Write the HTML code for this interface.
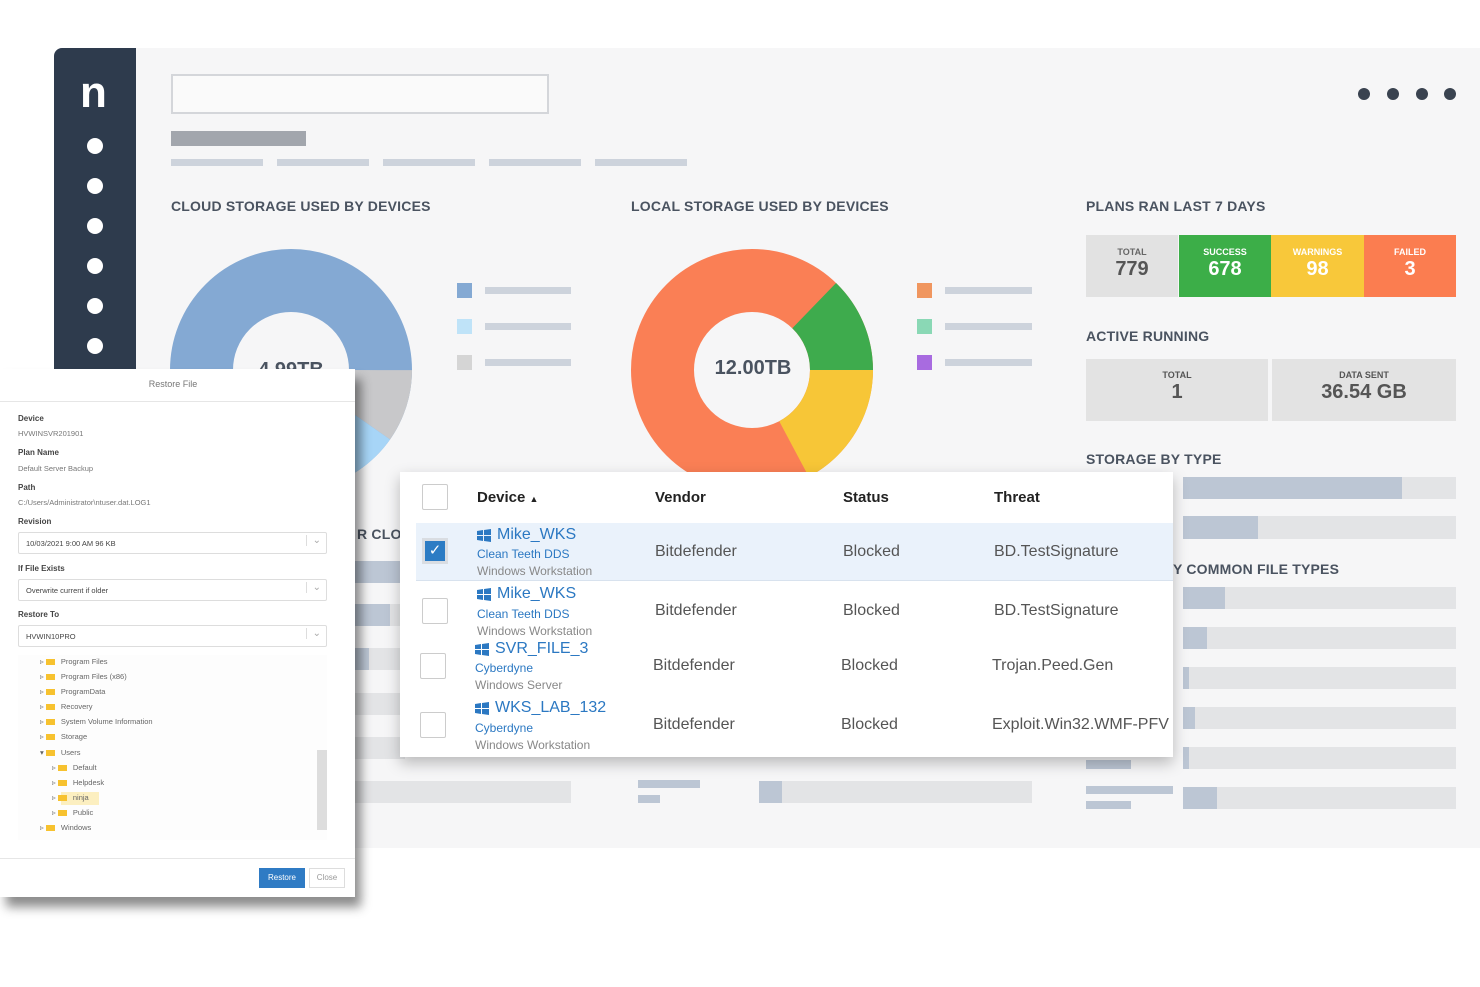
<!DOCTYPE html>
<html><head><meta charset="utf-8"><style>
*{margin:0;padding:0;box-sizing:border-box}
body{width:1480px;height:987px;background:#fff;position:relative;overflow:hidden;font-family:"Liberation Sans",sans-serif}
.a{position:absolute}
.h{position:absolute;font-size:14px;font-weight:bold;color:#4a5360;letter-spacing:0.2px}
.ln{position:absolute;height:7px;background:#cdd3dc}
.bar{position:absolute;height:22px;background:#e3e4e6}
.bar i{display:block;height:100%;background:#bcc6d4}
.sm{position:absolute;font-size:9px;color:#fff;text-align:center;font-weight:bold}
.num{position:absolute;font-size:20px;color:#fff;font-weight:bold;text-align:center}
.th{position:absolute;font-size:15px;font-weight:bold;color:#222}
.cb{position:absolute;width:26px;height:26px;border:1px solid #ccc;background:#fff;border-radius:2px}
.nm{position:absolute;font-size:16px;color:#2b78c2}
.co{position:absolute;font-size:12px;color:#2b78c2}
.os{position:absolute;font-size:12px;color:#888}
.td{position:absolute;font-size:16px;color:#555}
.win{position:absolute;width:14px;height:13px}
.dl{position:absolute;font-size:8px;font-weight:bold;color:#444}
.dv{position:absolute;font-size:7.5px;color:#777}
.sel{position:absolute;left:18px;width:309px;height:22px;border:1px solid #ddd;border-radius:2px;font-size:7.5px;color:#444;padding:6px 7px;background:#fff}
.sel:after{content:"⌄";position:absolute;right:5px;top:2px;color:#aaa;font-size:10px;border-left:1px solid #ddd;padding-left:6px}
.ti{position:absolute;font-size:7.5px;color:#666}
.ti b{display:inline-block;width:9px;height:6px;background:#f7c22f;margin-right:6px;vertical-align:-1px}
</style></head><body>
<div class="a" style="left:54px;top:48px;width:1426px;height:800px;background:#f6f6f7;border-radius:8px 0 0 0"></div>
<div class="a" style="left:54px;top:48px;width:82px;height:330px;background:#2e3b4d;border-radius:8px 0 0 0"></div>
<div class="a" style="left:80px;top:68px;font-size:44px;font-weight:bold;color:#fff;line-height:50px">n</div>
<svg class="a" style="left:54px;top:48px" width="82" height="330"><g fill="#fff"><circle cx="41" cy="98" r="8"/><circle cx="41" cy="138" r="8"/><circle cx="41" cy="178" r="8"/><circle cx="41" cy="218" r="8"/><circle cx="41" cy="258" r="8"/><circle cx="41" cy="298" r="8"/></g></svg>
<div class="a" style="left:171px;top:74px;width:378px;height:40px;border:2px solid #d4d6da;background:#fafafa"></div>
<div class="a" style="left:171px;top:131px;width:135px;height:15px;background:#a2a6ad"></div>
<div class="ln" style="left:171px;top:159px;width:92px"></div>
<div class="ln" style="left:277px;top:159px;width:92px"></div>
<div class="ln" style="left:383px;top:159px;width:92px"></div>
<div class="ln" style="left:489px;top:159px;width:92px"></div>
<div class="ln" style="left:595px;top:159px;width:92px"></div>
<svg class="a" style="left:1350px;top:84px" width="120" height="20"><g fill="#3a4350"><circle cx="14" cy="10" r="6"/><circle cx="43" cy="10" r="6"/><circle cx="72" cy="10" r="6"/><circle cx="100" cy="10" r="6"/></g></svg>

<div class="h" style="left:171px;top:198px">CLOUD STORAGE USED BY DEVICES</div>
<div class="h" style="left:631px;top:198px">LOCAL STORAGE USED BY DEVICES</div>
<div class="h" style="left:1086px;top:198px">PLANS RAN LAST 7 DAYS</div>

<svg class="a" style="left:0;top:0" width="1060" height="500">
<g transform="translate(291,370) rotate(-90)" fill="none" stroke-width="63">
<circle r="89.5" stroke="#84a9d3"/>
<circle r="89.5" stroke="#c8c8ca" stroke-dasharray="54.7 600" stroke-dashoffset="-140.6"/>
<circle r="89.5" stroke="#a7d5f7" stroke-dasharray="39 600" stroke-dashoffset="-195.3"/>
<circle r="89.5" stroke="#5e80ad" stroke-dasharray="23 600" stroke-dashoffset="-234.3"/>
</g>
<g transform="translate(752,370) rotate(-90)" fill="none" stroke-width="63">
<circle r="89.5" stroke="#fa7f55"/>
<circle r="89.5" stroke="#3eab4d" stroke-dasharray="71.8 600" stroke-dashoffset="-68.7"/>
<circle r="89.5" stroke="#f7c637" stroke-dasharray="96.8 600" stroke-dashoffset="-140.5"/>
</g>
<text x="291" y="376" text-anchor="middle" font-family="Liberation Sans" font-weight="bold" font-size="20" fill="#4a5360">4.99TB</text>
<text x="753" y="374" text-anchor="middle" font-family="Liberation Sans" font-weight="bold" font-size="20" fill="#4a5360">12.00TB</text>
<rect x="457" y="283" width="15" height="15" fill="#84a9d3"/><rect x="485" y="287" width="86" height="7" fill="#cdd3dc"/>
<rect x="457" y="319" width="15" height="15" fill="#bfe3f8"/><rect x="485" y="323" width="86" height="7" fill="#cdd3dc"/>
<rect x="457" y="355" width="15" height="15" fill="#d5d5d5"/><rect x="485" y="359" width="86" height="7" fill="#cdd3dc"/>
<rect x="917" y="283" width="15" height="15" fill="#f0965f"/><rect x="945" y="287" width="87" height="7" fill="#cdd3dc"/>
<rect x="917" y="319" width="15" height="15" fill="#8ad8b5"/><rect x="945" y="323" width="87" height="7" fill="#cdd3dc"/>
<rect x="917" y="355" width="15" height="15" fill="#a86be0"/><rect x="945" y="359" width="87" height="7" fill="#cdd3dc"/>
</svg>

<div class="a" style="left:1086px;top:235px;width:92px;height:62px;background:#e2e2e2"></div>
<div class="a" style="left:1179px;top:235px;width:92px;height:62px;background:#3cae48"></div>
<div class="a" style="left:1271px;top:235px;width:93px;height:62px;background:#f8c83a"></div>
<div class="a" style="left:1364px;top:235px;width:92px;height:62px;background:#fb7d50"></div>
<div class="sm" style="left:1086px;top:247px;width:92px;color:#666">TOTAL</div>
<div class="sm" style="left:1179px;top:247px;width:92px">SUCCESS</div>
<div class="sm" style="left:1271px;top:247px;width:93px">WARNINGS</div>
<div class="sm" style="left:1364px;top:247px;width:92px">FAILED</div>
<div class="num" style="left:1086px;top:258px;width:92px;color:#555">779</div>
<div class="num" style="left:1179px;top:258px;width:92px">678</div>
<div class="num" style="left:1271px;top:258px;width:93px">98</div>
<div class="num" style="left:1364px;top:258px;width:92px">3</div>

<div class="h" style="left:1086px;top:328px">ACTIVE RUNNING</div>
<div class="a" style="left:1086px;top:359px;width:182px;height:62px;background:#e3e3e3"></div>
<div class="a" style="left:1272px;top:359px;width:184px;height:62px;background:#e3e3e3"></div>
<div class="sm" style="left:1086px;top:370px;width:182px;color:#555">TOTAL</div>
<div class="sm" style="left:1272px;top:370px;width:184px;color:#555">DATA SENT</div>
<div class="num" style="left:1086px;top:381px;width:182px;color:#555">1</div>
<div class="num" style="left:1272px;top:381px;width:184px;color:#555">36.54 GB</div>

<div class="h" style="left:1086px;top:451px">STORAGE BY TYPE</div>
<div class="bar" style="left:1183px;top:477px;width:273px"><i style="width:219px"></i></div>
<div class="bar" style="left:1183px;top:516px;width:273px;height:23px"><i style="width:75px"></i></div>
<div class="h" style="left:1173px;top:561px">Y COMMON FILE TYPES</div>
<div class="bar" style="left:1183px;top:587px;width:273px"><i style="width:42px"></i></div>
<div class="bar" style="left:1183px;top:627px;width:273px"><i style="width:24px"></i></div>
<div class="bar" style="left:1183px;top:667px;width:273px"><i style="width:6px"></i></div>
<div class="bar" style="left:1183px;top:707px;width:273px"><i style="width:12px"></i></div>
<div class="bar" style="left:1183px;top:747px;width:273px"><i style="width:6px"></i></div>
<div class="bar" style="left:1183px;top:787px;width:273px"><i style="width:34px"></i></div>
<div class="a" style="left:1086px;top:760px;width:45px;height:9px;background:#bcc6d4"></div>
<div class="a" style="left:1086px;top:786px;width:87px;height:8px;background:#bcc6d4"></div>
<div class="a" style="left:1086px;top:801px;width:45px;height:8px;background:#bcc6d4"></div>

<div class="h" style="left:357px;top:526px">R CLO</div>
<div class="bar" style="left:355px;top:561px;width:50px"><i style="width:45px"></i></div>
<div class="bar" style="left:355px;top:604px;width:50px"><i style="width:35px"></i></div>
<div class="bar" style="left:355px;top:648px;width:50px"><i style="width:14px"></i></div>
<div class="bar" style="left:355px;top:693px;width:50px"></div>
<div class="bar" style="left:355px;top:737px;width:50px"></div>
<div class="bar" style="left:355px;top:781px;width:216px"></div>
<div class="a" style="left:638px;top:780px;width:62px;height:8px;background:#bcc6d4"></div>
<div class="a" style="left:638px;top:795px;width:22px;height:8px;background:#bcc6d4"></div>
<div class="bar" style="left:759px;top:781px;width:273px"><i style="width:23px"></i></div>

<div class="a" style="left:400px;top:472px;width:773px;height:285px;background:#fff;box-shadow:0 6px 14px rgba(0,0,0,0.25)"></div>
<div class="cb" style="left:422px;top:484px"></div>
<div class="th" style="left:477px;top:489px">Device <span style="font-size:9px">▲</span></div>
<div class="th" style="left:655px;top:489px">Vendor</div>
<div class="th" style="left:843px;top:489px">Status</div>
<div class="th" style="left:994px;top:489px">Threat</div>
<div class="a" style="left:416px;top:523px;width:757px;height:58px;background:#eaf2fb;border-bottom:1px solid #d8e2ee"></div>
<div class="a" style="left:422px;top:538px;width:26px;height:26px;background:#2c7cc4;border:3px solid #d9dde2;color:#fff;font-size:15px;text-align:center;line-height:20px">✓</div>

<svg class="win" style="left:477px;top:529px" viewBox="0 0 14 13"><path fill="#2b78c2" d="M0 2l6-1v5H0zM7 1l7-1v6H7zM0 7h6v5l-6-1zM7 7h7v6l-7-1z"/></svg>
<div class="nm" style="left:497px;top:526px">Mike_WKS</div>
<div class="co" style="left:477px;top:547px">Clean Teeth DDS</div>
<div class="os" style="left:477px;top:564px">Windows Workstation</div>
<div class="td" style="left:655px;top:543px">Bitdefender</div>
<div class="td" style="left:843px;top:543px">Blocked</div>
<div class="td" style="left:994px;top:543px">BD.TestSignature</div>

<div class="cb" style="left:422px;top:598px"></div>
<svg class="win" style="left:477px;top:588px" viewBox="0 0 14 13"><path fill="#2b78c2" d="M0 2l6-1v5H0zM7 1l7-1v6H7zM0 7h6v5l-6-1zM7 7h7v6l-7-1z"/></svg>
<div class="nm" style="left:497px;top:585px">Mike_WKS</div>
<div class="co" style="left:477px;top:607px">Clean Teeth DDS</div>
<div class="os" style="left:477px;top:624px">Windows Workstation</div>
<div class="td" style="left:655px;top:602px">Bitdefender</div>
<div class="td" style="left:843px;top:602px">Blocked</div>
<div class="td" style="left:994px;top:602px">BD.TestSignature</div>

<div class="cb" style="left:420px;top:653px"></div>
<svg class="win" style="left:475px;top:643px" viewBox="0 0 14 13"><path fill="#2b78c2" d="M0 2l6-1v5H0zM7 1l7-1v6H7zM0 7h6v5l-6-1zM7 7h7v6l-7-1z"/></svg>
<div class="nm" style="left:495px;top:640px">SVR_FILE_3</div>
<div class="co" style="left:475px;top:661px">Cyberdyne</div>
<div class="os" style="left:475px;top:678px">Windows Server</div>
<div class="td" style="left:653px;top:657px">Bitdefender</div>
<div class="td" style="left:841px;top:657px">Blocked</div>
<div class="td" style="left:992px;top:657px">Trojan.Peed.Gen</div>

<div class="cb" style="left:420px;top:712px"></div>
<svg class="win" style="left:475px;top:702px" viewBox="0 0 14 13"><path fill="#2b78c2" d="M0 2l6-1v5H0zM7 1l7-1v6H7zM0 7h6v5l-6-1zM7 7h7v6l-7-1z"/></svg>
<div class="nm" style="left:495px;top:699px">WKS_LAB_132</div>
<div class="co" style="left:475px;top:721px">Cyberdyne</div>
<div class="os" style="left:475px;top:738px">Windows Workstation</div>
<div class="td" style="left:653px;top:716px">Bitdefender</div>
<div class="td" style="left:841px;top:716px">Blocked</div>
<div class="td" style="left:992px;top:716px">Exploit.Win32.WMF-PFV</div>

<div class="a" style="left:0;top:369px;width:355px;height:528px;background:#fff;box-shadow:6px 10px 10px rgba(0,0,0,0.45)"></div>
<div class="a" style="left:0;top:379px;width:346px;text-align:center;font-size:9px;color:#777">Restore File</div>
<div class="a" style="left:0;top:401px;width:355px;height:1px;background:#e6e6e6"></div>
<div class="dl" style="left:18px;top:414px">Device</div><div class="dv" style="left:18px;top:429px">HVWINSVR201901</div>
<div class="dl" style="left:18px;top:448px">Plan Name</div><div class="dv" style="left:18px;top:464px">Default Server Backup</div>
<div class="dl" style="left:18px;top:483px">Path</div><div class="dv" style="left:18px;top:498px">C:/Users/Administrator\ntuser.dat.LOG1</div>
<div class="dl" style="left:18px;top:517px">Revision</div>
<div class="sel" style="top:532px">10/03/2021 9:00 AM 96 KB</div>
<div class="dl" style="left:18px;top:564px">If File Exists</div>
<div class="sel" style="top:579px">Overwrite current if older</div>
<div class="dl" style="left:18px;top:610px">Restore To</div>
<div class="sel" style="top:625px">HVWIN10PRO</div>
<div class="a" style="left:18px;top:655px;width:309px;height:185px;background:#fdfdfd"></div>
<div class="a" style="left:317px;top:750px;width:10px;height:80px;background:#ddd"></div>
<div class="ti" style="left:40px;top:657px">▹ <b></b>Program Files</div>
<div class="ti" style="left:40px;top:672px">▹ <b></b>Program Files (x86)</div>
<div class="ti" style="left:40px;top:687px">▹ <b></b>ProgramData</div>
<div class="ti" style="left:40px;top:702px">▹ <b></b>Recovery</div>
<div class="ti" style="left:40px;top:717px">▹ <b></b>System Volume Information</div>
<div class="ti" style="left:40px;top:732px">▹ <b></b>Storage</div>
<div class="ti" style="left:40px;top:748px">▾ <b></b>Users</div>
<div class="ti" style="left:52px;top:763px">▹ <b></b>Default</div>
<div class="ti" style="left:52px;top:778px">▹ <b></b>Helpdesk</div>
<div class="a" style="left:61px;top:792px;width:38px;height:13px;background:#fcefc0"></div>
<div class="ti" style="left:52px;top:793px">▹ <b></b>ninja</div>
<div class="ti" style="left:52px;top:808px">▹ <b></b>Public</div>
<div class="ti" style="left:40px;top:823px">▹ <b></b>Windows</div>
<div class="a" style="left:0;top:858px;width:355px;height:1px;background:#e6e6e6"></div>
<div class="a" style="left:259px;top:868px;width:46px;height:20px;background:#2f7bc4;color:#fff;font-size:8px;text-align:center;line-height:20px">Restore</div>
<div class="a" style="left:309px;top:868px;width:36px;height:20px;border:1px solid #ddd;color:#999;font-size:8px;text-align:center;line-height:18px">Close</div>
</body></html>
